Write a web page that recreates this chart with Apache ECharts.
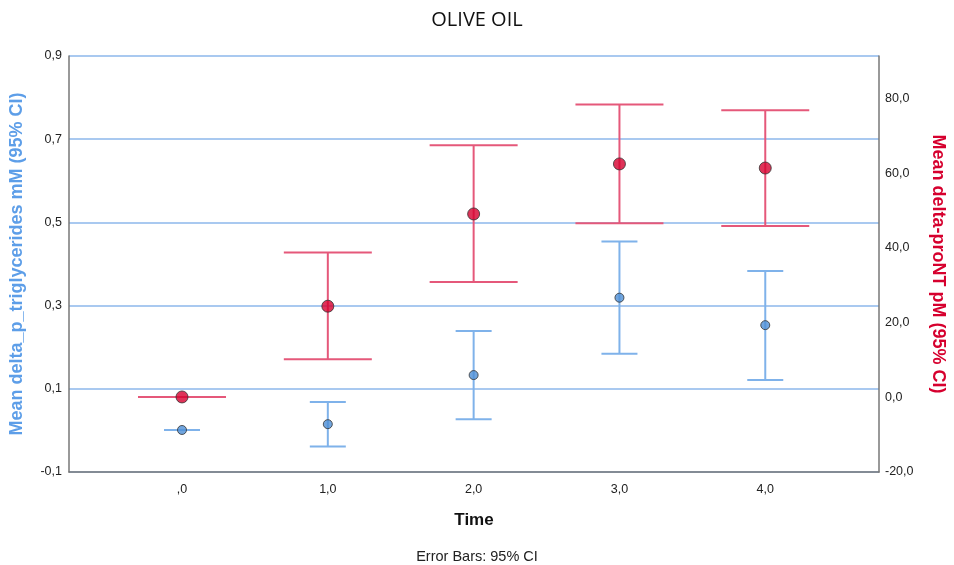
<!DOCTYPE html>
<html><head><meta charset="utf-8">
<script src="https://cdn.jsdelivr.net/npm/echarts@6/dist/echarts.min.js"></script>
<style>html,body{margin:0;padding:0;background:#fff}#c{width:954px;height:565px}</style>
</head><body><div id="c"></div>
<script>
const times = [0, 1, 2, 3, 4];
const timeLabels = [',0', '1,0', '2,0', '3,0', '4,0'];
const trigMean = [0.001, 0.015, 0.133, 0.319, 0.253];
const trigLow  = [0.001, -0.039, 0.027, 0.184, 0.121];
const trigHigh = [0.001, 0.068, 0.239, 0.454, 0.383];
const pntMean = [0.1, 24.4, 49.1, 62.5, 61.4];
const pntLow  = [0.1, 10.2, 30.9, 46.6, 45.9];
const pntHigh = [0.1, 38.8, 67.5, 78.4, 76.9];

const blueLine = '#7fb2ea', blueDot = '#4d8fd6';
const redLine = '#e5587a', redDot = '#d6002e';

function errBar(color, capW) {
  return function (params, api) {
    const x = api.value(0);
    const lo = api.coord([x, api.value(1)]);
    const hi = api.coord([x, api.value(2)]);
    const st = { stroke: color, lineWidth: 2 };
    return { type: 'group', children: [
      { type: 'line', shape: { x1: lo[0], y1: lo[1], x2: hi[0], y2: hi[1] }, style: st },
      { type: 'line', shape: { x1: lo[0] - capW / 2, y1: lo[1], x2: lo[0] + capW / 2, y2: lo[1] }, style: st },
      { type: 'line', shape: { x1: hi[0] - capW / 2, y1: hi[1], x2: hi[0] + capW / 2, y2: hi[1] }, style: st }
    ]};
  };
}

const chart = echarts.init(document.getElementById('c'));
chart.setOption({
  animation: false,
  title: [
    { text: 'OLIVE OIL', left: 'center', top: 5, textStyle: { fontFamily: 'Open Sans', fontSize: 20, fontWeight: 'normal', color: '#111' } },
    { text: 'Error Bars: 95% CI', left: 'center', top: 544, textStyle: { fontFamily: 'Liberation Sans', fontSize: 14.5, fontWeight: 'normal', color: '#222' } }
  ],
  grid: { left: 69, right: 75, top: 56, bottom: 93, outerBoundsMode: 'none', containLabel: false },
  xAxis: {
    type: 'value', min: -0.775, max: 4.78,
    name: 'Time', nameLocation: 'middle', nameGap: 40,
    nameTextStyle: { fontFamily: 'Liberation Sans', fontSize: 17, fontWeight: 'bold', color: '#111' },
    axisLine: { show: true, onZero: false, lineStyle: { color: '#777', width: 1.5 } },
    axisTick: { show: false },
    splitLine: { show: false },
    axisLabel: { customValues: times, margin: 11, fontFamily: 'Liberation Sans', fontSize: 12.5, color: '#222',
      formatter: v => timeLabels[times.indexOf(Math.round(v))] }
  },
  yAxis: [
    { type: 'value', min: -0.1, max: 0.9, interval: 0.2, position: 'left',
      name: 'Mean delta_p_triglycerides mM (95% CI)', nameLocation: 'middle', nameRotate: 90, nameGap: 43,
      nameTextStyle: { fontFamily: 'Liberation Sans', fontSize: 18, fontWeight: 'bold', color: '#5d9ee8' },
      axisLine: { show: true, onZero: false, lineStyle: { color: '#777', width: 1.5 } },
      axisTick: { show: false },
      axisLabel: { margin: 7, fontFamily: 'Liberation Sans', fontSize: 12.5, color: '#222', formatter: v => v.toFixed(1).replace('.', ',') },
      splitLine: { show: true, lineStyle: { color: '#a9c9f0', width: 2 } } },
    { type: 'value', min: -20, max: 91.4, interval: 20, position: 'right',
      name: 'Mean delta-proNT pM (95% CI)', nameLocation: 'middle', nameRotate: -90, nameGap: 50,
      nameTextStyle: { fontFamily: 'Liberation Sans', fontSize: 18, fontWeight: 'bold', color: '#d6002e' },
      axisLine: { show: true, onZero: false, lineStyle: { color: '#777', width: 1.5 } },
      axisTick: { show: false },
      axisLabel: { margin: 6, showMaxLabel: false, fontFamily: 'Liberation Sans', fontSize: 12.5, color: '#222', formatter: v => v.toFixed(1).replace('.', ',') },
      splitLine: { show: false } }
  ],
  series: [
    { type: 'custom', yAxisIndex: 0, renderItem: errBar(blueLine, 36), z: 3,
      data: times.map((t, i) => [t, trigLow[i], trigHigh[i]]) },
    { type: 'custom', yAxisIndex: 1, renderItem: errBar(redLine, 88), z: 3,
      data: times.map((t, i) => [t, pntLow[i], pntHigh[i]]) },
    { type: 'scatter', yAxisIndex: 0, symbolSize: 9, z: 5,
      itemStyle: { color: blueDot, borderColor: '#333', borderWidth: 1 },
      data: times.map((t, i) => [t, trigMean[i]]) },
    { type: 'scatter', yAxisIndex: 1, symbolSize: 12, z: 5,
      itemStyle: { color: redDot, borderColor: '#333', borderWidth: 1 },
      data: times.map((t, i) => [t, pntMean[i]]) }
  ]
});
</script></body></html>
